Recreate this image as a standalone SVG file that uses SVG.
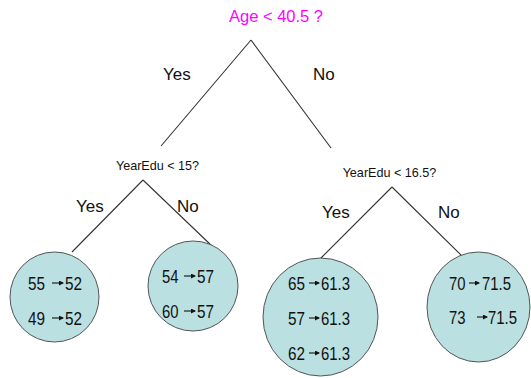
<svg xmlns="http://www.w3.org/2000/svg" width="531" height="378" viewBox="0 0 531 378">
<style>
text{font-family:"Liberation Sans",Arial,sans-serif;fill:#111}
.lbl{font-size:17px}
.q{font-size:12.6px;text-anchor:middle}
.t{font-size:16.5px;fill:#FF00FF;text-anchor:middle}
.v{font-size:17.5px}
.edge{stroke:#333;stroke-width:1.1;fill:none}
.leaf{fill:#BAE0E2;stroke:#555;stroke-width:1}
.ar{stroke:#111;stroke-width:1.1;fill:none;marker-end:url(#ah)}
</style>
<defs>
<marker id="ah" markerWidth="5" markerHeight="5" refX="4" refY="2.5" orient="auto" markerUnits="userSpaceOnUse">
<path d="M0,0 L5,2.5 L0,5 Z" fill="#111"/>
</marker>
</defs>
<rect width="531" height="378" fill="#fff"/>
<g id="connectors">
<path class="edge" d="M251,40 L161,146 M251,40 L331,148"/>
<path class="edge" d="M143,180 L72,252 M143,180 L213,247"/>
<path class="edge" d="M392,187 L320,259 M392,187 L463,257"/>
</g>
<g id="root"><text class="t" x="276" y="22">Age &lt; 40.5 ?</text></g>
<g id="root-yes"><text class="lbl" x="163" y="80">Yes</text></g>
<g id="root-no"><text class="lbl" x="313" y="80">No</text></g>
<g id="q1"><text class="q" x="157.5" y="170">YearEdu &lt; 15?</text></g>
<g id="q1-yes"><text class="lbl" x="76" y="212">Yes</text></g>
<g id="q1-no"><text class="lbl" x="177" y="212">No</text></g>
<g id="q2"><text class="q" x="389.5" y="177">YearEdu &lt; 16.5?</text></g>
<g id="q2-yes"><text class="lbl" x="322" y="218">Yes</text></g>
<g id="q2-no"><text class="lbl" x="438" y="218">No</text></g>
<g id="leaf1">
<ellipse class="leaf" cx="54.5" cy="297" rx="44.5" ry="45"/>
<text class="v" x="28" y="290" textLength="17" lengthAdjust="spacingAndGlyphs">55</text><line class="ar" x1="52" y1="283" x2="63" y2="283"/><text class="v" x="65" y="290" textLength="17" lengthAdjust="spacingAndGlyphs">52</text>
<text class="v" x="28" y="325" textLength="17" lengthAdjust="spacingAndGlyphs">49</text><line class="ar" x1="52" y1="318" x2="63" y2="318"/><text class="v" x="65" y="325" textLength="17" lengthAdjust="spacingAndGlyphs">52</text>
</g>
<g id="leaf2">
<ellipse class="leaf" cx="193" cy="286" rx="45" ry="45"/>
<text class="v" x="162" y="283" textLength="16.5" lengthAdjust="spacingAndGlyphs">54</text><line class="ar" x1="184" y1="276" x2="195" y2="276"/><text class="v" x="197" y="283" textLength="17" lengthAdjust="spacingAndGlyphs">57</text>
<text class="v" x="162" y="318" textLength="16.5" lengthAdjust="spacingAndGlyphs">60</text><line class="ar" x1="184" y1="311" x2="195" y2="311"/><text class="v" x="197" y="318" textLength="17" lengthAdjust="spacingAndGlyphs">57</text>
</g>
<g id="leaf3">
<ellipse class="leaf" cx="320.5" cy="317" rx="57.5" ry="59"/>
<text class="v" x="288" y="290" textLength="17" lengthAdjust="spacingAndGlyphs">65</text><line class="ar" x1="309" y1="283" x2="319" y2="283"/><text class="v" x="321" y="290" textLength="29" lengthAdjust="spacingAndGlyphs">61.3</text>
<text class="v" x="288" y="325" textLength="17" lengthAdjust="spacingAndGlyphs">57</text><line class="ar" x1="309" y1="318" x2="319" y2="318"/><text class="v" x="321" y="325" textLength="29" lengthAdjust="spacingAndGlyphs">61.3</text>
<text class="v" x="288" y="360" textLength="17" lengthAdjust="spacingAndGlyphs">62</text><line class="ar" x1="309" y1="353" x2="319" y2="353"/><text class="v" x="321" y="360" textLength="29" lengthAdjust="spacingAndGlyphs">61.3</text>
</g>
<g id="leaf4">
<ellipse class="leaf" cx="478.5" cy="307" rx="51.5" ry="55"/>
<text class="v" x="449" y="290" textLength="16.5" lengthAdjust="spacingAndGlyphs">70</text><line class="ar" x1="469" y1="283" x2="479" y2="283"/><text class="v" x="482" y="290" textLength="29" lengthAdjust="spacingAndGlyphs">71.5</text>
<text class="v" x="449" y="324" textLength="16.5" lengthAdjust="spacingAndGlyphs">73</text><line class="ar" x1="477" y1="317" x2="487" y2="317"/><text class="v" x="488" y="324" textLength="29" lengthAdjust="spacingAndGlyphs">71.5</text>
</g>
</svg>
